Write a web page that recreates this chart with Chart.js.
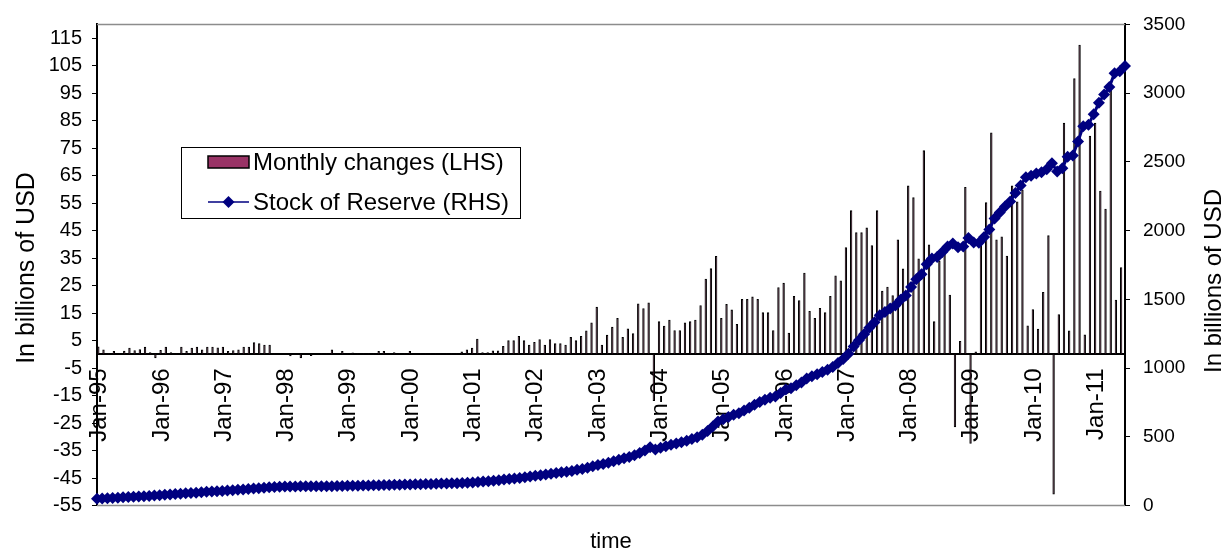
<!DOCTYPE html>
<html>
<head>
<meta charset="utf-8">
<script src="https://cdn.jsdelivr.net/npm/chart.js@4.4.0/dist/chart.umd.min.js"></script>
<style>
html,body{margin:0;padding:0;background:#fff;}
#wrap{width:1230px;height:556px;position:relative;}
</style>
</head>
<body>
<div id="wrap"><canvas id="c" width="1230" height="556"></canvas></div>
<script>
// ---------- data ----------
const monthNames = ['Jan','Feb','Mar','Apr','May','Jun','Jul','Aug','Sep','Oct','Nov','Dec'];
const yearSuffixes = ['95','96','97','98','99','00','01','02','03','04','05','06','07','08','09','10','11'];
const monthCount = 198; // Jan-95 .. Jun-11

// Monthly changes (LHS), billions USD
const monthlyChanges = [
  2.9, 1.8, 0.5, 1.2, 0.4, 1.3, 2.4, 1.5, 1.9, 2.8, 0.8, -1.4,
  1.6, 2.8, 0.8, 0.4, 2.8, 1.2, 2.4, 2.8, 1.8, 2.8, 2.8, 2.5,
  2.8, 1.2, 1.5, 1.8, 2.8, 2.8, 4.4, 4.0, 3.5, 3.5, 0.4, 0.4,
  0.1, -0.7, 0.2, -1.4, 0.2, -0.6, 0.1, 0.4, 0.4, 1.8, 0.4, 1.2,
  0.4, 0.7, 0.4, 0.4, 0.4, 0.4, 1.2, 1.2, 0.4, 0.8, 0.4, 0.4,
  1.2, 0.4, 0.4, 0.4, 0.4, 0.4, 0.4, 0.4, 0.4, 0.4, 1.0, 1.8,
  2.4, 5.7, 0.8, 0.8, 1.4, 1.4, 3.0, 5.1, 5.1, 6.7, 5.1, 3.5,
  4.5, 5.5, 3.5, 5.5, 4.0, 4.0, 3.5, 6.3, 5.1, 6.7, 8.7, 11.6,
  17.3, 3.5, 7.1, 10.0, 13.2, 6.3, 9.4, 7.7, 18.5, 16.8, 18.9, -17,
  12.0, 10.4, 12.6, 8.8, 8.8, 11.6, 12.0, 12.6, 17.9, 27.5, 31.3, 35.8,
  13.2, 18.3, 16.3, 11.0, 20.1, 20.1, 21.0, 20.1, 15.3, 15.3, 8.8, 24.4,
  26.0, 7.9, 21.2, 19.7, 29.7, 15.8, 13.2, 16.9, 15.3, 21.2, 28.7, 26.9,
  39, 52.4, 44.4, 44.4, 46.1, 39.7, 52.4, 23.1, 24.6, 21.5, 41.8, 31.2,
  61.4, 57.1, 34.9, 74.2, 40.0, 12.0, 34.1, 38.8, 21.7, -26.5, 4.9, 60.9,
  -32.5, 1.0, 42.9, 55.3, 80.7, 41.8, 42.9, 35.9, 61.4, 55.6, 60.0, 10.5,
  16.4, 9.3, 22.7, 43.3, -51, 14.6, 84.2, 8.7, 100.4, 112.6, 7.2, 79.5,
  84.2, 59.5, 53.0, 97, 19.9, 31.7
];

// Stock of reserve (RHS), billions USD
const reserveStock = [
  50, 52, 54, 56, 58, 60, 62, 64, 66, 68, 70, 73,
  76, 79, 81, 84, 86, 89, 92, 94, 97, 100, 103, 105,
  107, 109, 112, 115, 118, 121, 124, 127, 130, 133, 136, 138,
  139, 139, 139, 140, 140, 140, 140, 140, 141, 141, 142, 143,
  144, 145, 145, 146, 147, 148, 148, 149, 150, 151, 152, 153,
  154, 155, 156, 157, 158, 159, 160, 161, 162, 163, 164, 166,
  168, 172, 175, 177, 180, 185, 190, 194, 197, 201, 206, 212,
  217, 221, 227, 232, 237, 242, 247, 252, 260, 266, 276, 287,
  296, 302, 311, 322, 333, 344, 354, 366, 382, 400, 425, 408,
  420, 431, 443, 452, 461, 472, 484, 497, 515, 542, 575, 612,
  628, 645, 660, 672, 692, 712, 733, 753, 769, 784, 794, 819,
  845, 853, 875, 895, 925, 941, 955, 972, 988, 1009, 1038, 1066,
  1105, 1157, 1202, 1247, 1293, 1333, 1385, 1408, 1434, 1455, 1497, 1528,
  1590, 1647, 1682, 1756, 1797, 1809, 1845, 1884, 1906, 1880, 1885, 1946,
  1913, 1912, 1954, 2009, 2089, 2132, 2175, 2211, 2273, 2328, 2388, 2399,
  2415, 2424, 2447, 2490, 2430, 2454, 2538, 2547, 2648, 2760, 2770, 2847,
  2931, 2990, 3045, 3145, 3160, 3197
];

const leftTickValues = [-55, -45, -35, -25, -15, -5, 5, 15, 25, 35, 45, 55, 65, 75, 85, 95, 105, 115];
const leftMin = -55, leftMax = 120;
const rightMin = 0, rightMax = 3500, rightStep = 500;

const seriesNames = ['Monthly changes (LHS)', 'Stock of Reserve (RHS)'];
const yTitleText = 'In billions of USD';
const xTitleText = 'time';

// build category labels from the small arrays
const categories = [];
for (const y of yearSuffixes) {
  for (const m of monthNames) {
    if (categories.length < monthCount) categories.push(m + '-' + y);
  }
}

// ---------- styling ----------
const FONT = '"Liberation Sans", Arial, sans-serif';
const BAR_COLOR = '#993366';
const LINE_COLOR = '#000080';
Chart.defaults.font.family = FONT;
Chart.defaults.color = '#000';

const decorPlugin = {
  id: 'decor',
  beforeDatasetsDraw(chart) {
    const {ctx, chartArea: a} = chart;
    ctx.save();
    ctx.strokeStyle = '#8c8c8c';
    ctx.lineWidth = 1.5;
    ctx.beginPath();
    ctx.moveTo(a.left, a.top); ctx.lineTo(a.right, a.top);
    ctx.moveTo(a.left, a.bottom); ctx.lineTo(a.right, a.bottom);
    ctx.stroke();
    ctx.restore();
  },
  afterDraw(chart) {
    const {ctx} = chart;
    ctx.save();
    ctx.fillStyle = '#000';
    ctx.textAlign = 'center';
    ctx.textBaseline = 'alphabetic';
    // left axis title
    ctx.font = '25px ' + FONT;
    ctx.save(); ctx.translate(34, 268); ctx.rotate(-Math.PI / 2); ctx.fillText(yTitleText, 0, 0); ctx.restore();
    // right axis title
    ctx.font = '24px ' + FONT;
    ctx.save(); ctx.translate(1221, 281); ctx.rotate(-Math.PI / 2); ctx.fillText(yTitleText, 0, 0); ctx.restore();

    // legend
    const bx = 181.5, by = 147.5, bw = 339, bh = 71;
    ctx.fillStyle = '#fff';
    ctx.fillRect(bx, by, bw, bh);
    ctx.strokeStyle = '#000'; ctx.lineWidth = 1;
    ctx.strokeRect(bx, by, bw, bh);
    const r1 = 162, r2 = 202;
    ctx.fillStyle = BAR_COLOR;
    ctx.fillRect(208, r1 - 6, 41, 12);
    ctx.lineWidth = 1.5; ctx.strokeStyle = '#000';
    ctx.strokeRect(208, r1 - 6, 41, 12);
    ctx.strokeStyle = LINE_COLOR; ctx.lineWidth = 1.5;
    ctx.beginPath(); ctx.moveTo(208, r2); ctx.lineTo(249, r2); ctx.stroke();
    ctx.fillStyle = LINE_COLOR;
    ctx.beginPath();
    ctx.moveTo(228.5, r2 - 6); ctx.lineTo(234.5, r2); ctx.lineTo(228.5, r2 + 6); ctx.lineTo(222.5, r2); ctx.closePath(); ctx.fill();
    ctx.fillStyle = '#000';
    ctx.font = '24px ' + FONT;
    ctx.textAlign = 'left';
    ctx.textBaseline = 'middle';
    ctx.fillText(chart.data.datasets[0].label, 253, r1 + 1);
    ctx.fillText(chart.data.datasets[1].label, 253, r2 + 1);
    ctx.restore();
  }
};

const ctx = document.getElementById('c').getContext('2d');
new Chart(ctx, {
  data: {
    labels: categories,
    datasets: [
      {
        type: 'bar',
        label: seriesNames[0],
        data: monthlyChanges,
        xAxisID: 'x',
        yAxisID: 'y',
        backgroundColor: BAR_COLOR,
        borderColor: '#000',
        borderWidth: 1.1,
        categoryPercentage: 1.0,
        barPercentage: 0.92,
        inflateAmount: 0,
        order: 2
      },
      {
        type: 'line',
        label: seriesNames[1],
        data: reserveStock,
        xAxisID: 'x2',
        yAxisID: 'y1',
        borderColor: LINE_COLOR,
        borderWidth: 3,
        pointStyle: 'rectRot',
        pointRadius: 6,
        pointBackgroundColor: LINE_COLOR,
        pointBorderColor: LINE_COLOR,
        pointBorderWidth: 0,
        tension: 0,
        clip: false,
        order: 1
      }
    ]
  },
  options: {
    responsive: false,
    animation: false,
    devicePixelRatio: 1,
    layout: {padding: {left: 0, right: 0, top: 12, bottom: 0}},
    plugins: {
      legend: {display: false},
      tooltip: {enabled: false},
      title: {
        display: true,
        text: xTitleText,
        position: 'bottom',
        fullSize: false,
        color: '#000',
        font: {size: 22, weight: 'normal', family: FONT},
        padding: {top: 23, bottom: 1}
      }
    },
    scales: {
      x: {
        type: 'category',
        offset: true,
        position: {y: 0},
        grid: {display: false, drawTicks: false},
        border: {display: true, color: '#000', width: 2},
        ticks: {
          autoSkip: false,
          minRotation: 90,
          maxRotation: 90,
          padding: 14,
          color: '#000',
          font: {size: 24, family: FONT},
          callback: function(v, i) { const l = categories[i]; return l.startsWith('Jan') ? l : ''; }
        },
        afterFit(s) { s.height = 0; }
      },
      x2: {
        type: 'category',
        offset: false,
        display: false
      },
      y: {
        type: 'linear',
        position: 'left',
        min: leftMin,
        max: leftMax,
        afterBuildTicks(s) { s.ticks = leftTickValues.map(v => ({value: v})); },
        grid: {display: true, drawOnChartArea: false, drawTicks: true, tickLength: 5, color: '#000', lineWidth: 1},
        border: {display: true, color: '#000', width: 2},
        ticks: {padding: 10, color: '#000', font: {size: 20, family: FONT}, callback: v => String(v)},
        afterFit(s) { s.width = 97; }
      },
      y1: {
        type: 'linear',
        position: 'right',
        min: rightMin,
        max: rightMax,
        grid: {display: true, drawOnChartArea: false, drawTicks: true, tickLength: 5, color: '#000', lineWidth: 1},
        border: {display: true, color: '#000', width: 2},
        ticks: {stepSize: rightStep, padding: 13, color: '#000', font: {size: 19, family: FONT}, callback: v => String(v)},
        afterFit(s) { s.width = 105; }
      }
    }
  },
  plugins: [decorPlugin]
});
</script>
</body>
</html>
